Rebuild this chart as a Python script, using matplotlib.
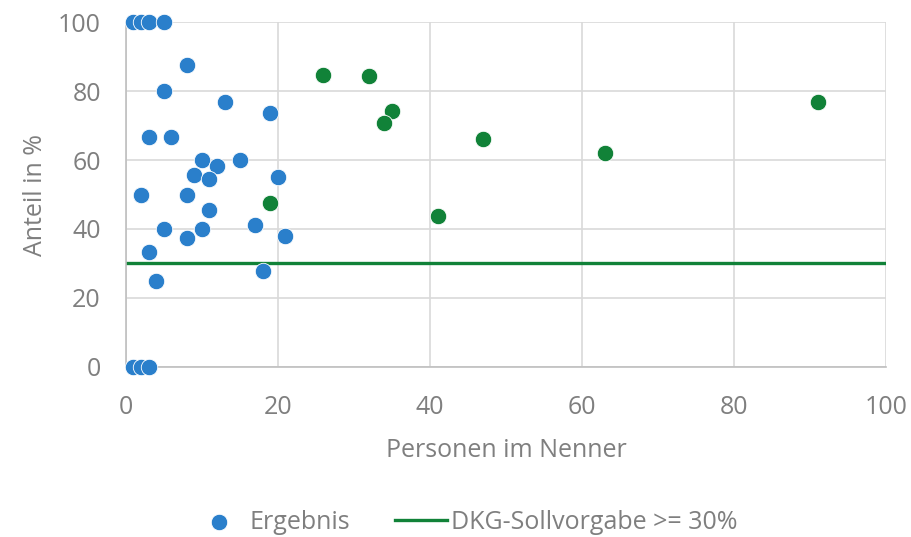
import matplotlib.pyplot as plt

# Ergebnis (blue points): Personen im Nenner vs. Anteil in %
blue_x = [1, 2, 3, 5, 8, 5, 13, 19, 3, 6, 10, 15, 12, 9, 11, 20, 2, 2, 8, 11,
          5, 10, 17, 21, 8, 3, 18, 4, 1, 2, 3]
blue_y = [100, 100, 100, 100, 87.5, 80, 76.9, 73.7, 66.7, 66.7, 60, 60, 58.3,
          55.6, 54.5, 55, 50, 50, 50, 45.5, 40, 40, 41.2, 38.1, 37.5, 33.3,
          27.8, 25, 0, 0, 0]

# green points (no legend entry)
green_x = [26, 32, 35, 34, 47, 41, 63, 91, 19]
green_y = [84.6, 84.4, 74.3, 70.6, 66.0, 43.9, 61.9, 76.9, 47.4]

# DKG-Sollvorgabe
target_x = [0, 100]
target_y = [30, 30]

plt.rcParams['font.family'] = ['Open Sans', 'DejaVu Sans']
txt = '#7F7F7F'
fs = 18

fig = plt.figure(figsize=(9.12, 5.37), dpi=100)
ax = fig.add_axes([0.138, 0.3166, 0.8335, 0.6424])

ax.plot(target_x, target_y, color='#118238', lw=2.4, zorder=2,
        label='DKG-Sollvorgabe >= 30%')
ax.scatter(blue_x, blue_y, s=140, color='#2A7FCB', edgecolors='white',
           linewidths=0.6, zorder=3, label='Ergebnis', clip_on=False)
ax.scatter(green_x, green_y, s=140, color='#118238', edgecolors='white',
           linewidths=0.6, zorder=3, clip_on=False)

ax.set_xlim(0, 100)
ax.set_ylim(0, 100)
ax.set_xticks(range(0, 101, 20))
ax.set_yticks(range(0, 101, 20))
ax.grid(True, color='#D9D9D9', lw=1.2)
ax.set_axisbelow(True)
for s in ['top', 'right']:
    ax.spines[s].set_visible(False)
for s in ['left', 'bottom']:
    ax.spines[s].set_color('#BFBFBF')
    ax.spines[s].set_linewidth(1.2)
ax.tick_params(axis='y', length=0, pad=18, labelsize=fs, labelcolor=txt)
ax.tick_params(axis='x', length=0, pad=20, labelsize=fs, labelcolor=txt)

ax.set_xlabel('Personen im Nenner', fontsize=fs, color=txt, labelpad=13)
ax.set_ylabel('Anteil in %', fontsize=fs, color=txt, labelpad=7)

h, l = ax.get_legend_handles_labels()
fig.legend(h[::-1], l[::-1], loc='center', bbox_to_anchor=(0.51, 0.027),
           ncol=2, frameon=False, fontsize=fs, labelcolor=txt,
           handlelength=2.1, columnspacing=1.8, handletextpad=0.15)

fig.savefig('out.png', dpi=100)
